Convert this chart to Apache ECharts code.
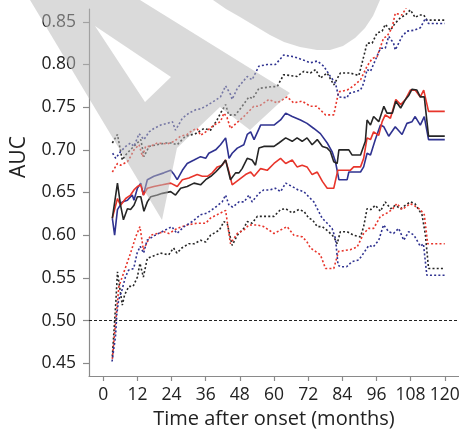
<!DOCTYPE html>
<html><head><meta charset="utf-8">
<script src="https://cdn.jsdelivr.net/npm/echarts@6/dist/echarts.min.js"></script>
<style>html,body{margin:0;padding:0;background:#fff}#c{width:459px;height:432px}</style>
</head><body><div id="c"></div>
<script>
const xTicks = [0,12,24,36,48,60,72,84,96,108,120];
const yTicks = [0.45,0.50,0.55,0.60,0.65,0.70,0.75,0.80,0.85];
const xName = 'Time after onset (months)';
const yName = 'AUC';
const refLine = 0.50;

const blackMid = [[3.2,0.620],[5,0.661],[6.1,0.635],[7.1,0.618],[8.5,0.631],[9.6,0.630],[10.8,0.635],[12,0.645],[13.2,0.645],[14.3,0.628],[15.5,0.639],[16.7,0.645],[19,0.647],[20.8,0.649],[23.7,0.651],[25.4,0.647],[27.2,0.655],[29.5,0.657],[31.9,0.661],[34.2,0.659],[36,0.665],[37.8,0.669],[39.5,0.674],[41.2,0.680],[43,0.688],[44.7,0.665],[46.5,0.673],[47.7,0.673],[48.8,0.678],[50.6,0.690],[52.3,0.688],[53.5,0.682],[54.7,0.702],[56.4,0.704],[60,0.704],[61.7,0.708],[64.1,0.714],[66.4,0.710],[68.1,0.714],[69.9,0.710],[71.6,0.714],[73.4,0.706],[75.2,0.712],[77,0.704],[78.7,0.702],[79.8,0.698],[81,0.686],[82.2,0.684],[82.8,0.700],[86.3,0.700],[87.4,0.694],[90.4,0.694],[92.1,0.710],[92.7,0.735],[93.9,0.729],[95,0.739],[96.8,0.733],[98.6,0.751],[99.7,0.743],[101.6,0.743],[102.8,0.757],[104.5,0.749],[106.2,0.759],[107.4,0.764],[108.5,0.771],[110.2,0.770],[111.4,0.762],[112.8,0.762],[114.3,0.716],[120,0.716]];
const redMid = [[3.2,0.620],[5,0.643],[6.1,0.635],[7.9,0.643],[9.6,0.647],[10.8,0.653],[12,0.657],[13.2,0.659],[14.1,0.647],[15.5,0.655],[17.8,0.657],[20.8,0.659],[23.7,0.661],[26,0.657],[27.8,0.665],[30.1,0.667],[33,0.671],[34.8,0.669],[36.6,0.669],[38.3,0.673],[40.1,0.680],[41.8,0.682],[43,0.688],[44.2,0.674],[45.3,0.659],[47.7,0.665],[50,0.671],[51.8,0.674],[53,0.669],[55.3,0.678],[57.6,0.676],[60,0.684],[62.3,0.690],[64.1,0.684],[66.4,0.688],[68.1,0.680],[69.9,0.682],[71.6,0.680],[73.4,0.671],[75.2,0.674],[77,0.663],[78.7,0.655],[81,0.655],[82.4,0.676],[86.8,0.676],[88,0.680],[90.4,0.680],[91.5,0.690],[92.7,0.714],[93.9,0.712],[95,0.721],[96.8,0.717],[98,0.733],[99.1,0.741],[100.9,0.737],[102.8,0.759],[104.5,0.753],[106.2,0.759],[107.9,0.770],[109.6,0.770],[111.4,0.762],[112.6,0.770],[114.3,0.745],[120,0.745]];
const blueMid = [[3.2,0.620],[4,0.600],[5,0.630],[6.7,0.639],[8.5,0.641],[10.2,0.647],[10.8,0.641],[12,0.655],[13.2,0.661],[14.1,0.647],[15.5,0.665],[17.8,0.669],[21.3,0.673],[23.7,0.676],[24.9,0.671],[26,0.665],[27.8,0.676],[29.5,0.684],[31.9,0.688],[34.2,0.692],[36,0.690],[37.1,0.696],[39.5,0.700],[41.2,0.706],[43,0.714],[44.2,0.690],[45.3,0.696],[47.1,0.702],[49.4,0.706],[50.6,0.718],[51.8,0.721],[53,0.712],[55.3,0.729],[60,0.729],[62.3,0.735],[64.1,0.743],[66.4,0.739],[69.3,0.735],[71.6,0.731],[74,0.725],[76.3,0.719],[78.7,0.708],[80.4,0.698],[81.6,0.686],[82.8,0.665],[85.7,0.665],[86.3,0.674],[90.4,0.674],[91.5,0.680],[92.7,0.696],[93.9,0.694],[95.6,0.712],[97.4,0.729],[98.6,0.727],[100.3,0.716],[102.6,0.727],[105,0.718],[106.7,0.731],[108.5,0.733],[109.6,0.739],[111.4,0.729],[112.8,0.739],[114.3,0.712],[120,0.712]];

const blackHi = [[3.2,0.708],[5,0.718],[6.7,0.688],[7.9,0.694],[9.5,0.700],[11.4,0.706],[13.2,0.712],[14.3,0.692],[16.1,0.704],[19,0.706],[21.9,0.708],[24,0.708],[26,0.706],[28.9,0.716],[32.5,0.719],[35.4,0.725],[37.7,0.723],[40,0.735],[41.2,0.743],[43,0.753],[44.1,0.741],[46.5,0.741],[48.8,0.751],[51.2,0.762],[52.5,0.760],[54.7,0.772],[59.4,0.774],[61.1,0.774],[63.4,0.788],[68.1,0.786],[70.5,0.792],[72.8,0.790],[74.6,0.794],[76.3,0.784],[78.7,0.790],[81,0.776],[83.3,0.790],[86.8,0.790],[89.8,0.787],[91.5,0.809],[92.7,0.825],[94.5,0.825],[96.2,0.837],[98,0.839],[99.1,0.847],[100.9,0.840],[102.5,0.848],[104.5,0.855],[106.2,0.858],[107.9,0.864],[109.6,0.855],[111,0.858],[112.6,0.858],[113.8,0.852],[120,0.852]];
const redHi = [[3.2,0.674],[5,0.684],[6.1,0.682],[8.5,0.686],[9.6,0.692],[10.8,0.700],[12.6,0.706],[13.8,0.692],[14.9,0.704],[16.5,0.704],[19,0.708],[22.5,0.707],[24.9,0.710],[27.2,0.716],[29.5,0.718],[31.3,0.723],[33,0.725],[34.2,0.717],[36,0.721],[38.9,0.729],[41.2,0.733],[42.4,0.743],[43.5,0.738],[44.7,0.725],[49.4,0.739],[52.9,0.751],[54.7,0.751],[58.2,0.759],[61.1,0.755],[64.6,0.762],[66.9,0.755],[69.9,0.757],[72.8,0.751],[75,0.751],[78.1,0.741],[81,0.741],[82.7,0.768],[85.7,0.770],[88,0.775],[90.4,0.782],[92.7,0.798],[94.5,0.807],[96.2,0.809],[98.5,0.831],[99.7,0.833],[101.5,0.843],[102.6,0.860],[105,0.858],[106.7,0.868],[108,0.872],[120,0.872]];
const blueHi = [[3.3,0.696],[4.4,0.690],[6.1,0.698],[7.9,0.704],[9.6,0.708],[10.8,0.704],[12.6,0.719],[14.3,0.712],[16.1,0.721],[17.8,0.725],[20.2,0.729],[22.5,0.731],[24.3,0.733],[25.4,0.723],[27.8,0.737],[30.1,0.743],[32.5,0.747],[34.2,0.748],[36,0.751],[38.9,0.757],[41.2,0.762],[43,0.775],[44.7,0.765],[45.3,0.759],[47.1,0.772],[50.6,0.786],[52.3,0.782],[54.7,0.798],[57.6,0.800],[60.5,0.800],[63.4,0.811],[67,0.809],[70.5,0.805],[72.8,0.802],[75.2,0.804],[77.5,0.798],[79.8,0.786],[81.6,0.778],[82.7,0.762],[85.7,0.761],[86.3,0.766],[90.4,0.770],[91.5,0.778],[92.7,0.794],[93.9,0.792],[95.6,0.805],[97.4,0.819],[99.1,0.819],[100.3,0.833],[102,0.825],[102.6,0.817],[105,0.833],[106.7,0.839],[109,0.840],[111.4,0.843],[113.2,0.854],[114.3,0.848],[120,0.848]];

const blackLo = [[3.2,0.458],[4.4,0.520],[5,0.557],[6.7,0.518],[7.5,0.530],[9,0.540],[10.5,0.540],[12,0.551],[12.9,0.567],[14.1,0.551],[15.5,0.573],[17.1,0.575],[20.1,0.579],[23,0.577],[24.7,0.585],[25.9,0.579],[27.6,0.585],[30.1,0.590],[32,0.590],[34.2,0.594],[36,0.592],[37.7,0.600],[40.8,0.606],[42.4,0.616],[43.6,0.613],[45.3,0.588],[47.1,0.600],[49.4,0.608],[50.6,0.616],[52.3,0.614],[54.1,0.622],[57.6,0.622],[60,0.622],[62.3,0.630],[64.1,0.631],[66.4,0.626],[68.7,0.630],[70.5,0.628],[72.2,0.620],[73.5,0.618],[75.2,0.610],[77,0.610],[79.2,0.604],[81,0.598],[82.2,0.590],[83.3,0.604],[85.7,0.604],[88,0.600],[90.4,0.598],[91.5,0.610],[92.7,0.631],[94,0.630],[95.6,0.635],[97.4,0.628],[99.1,0.639],[101,0.631],[102.6,0.635],[104.5,0.631],[106.1,0.635],[107.9,0.639],[109.5,0.637],[110.8,0.630],[112,0.624],[113.2,0.600],[114.3,0.561],[120,0.561]];
const redLo = [[3.2,0.455],[4.4,0.500],[5.5,0.540],[7.3,0.557],[9.6,0.579],[11.4,0.598],[12.9,0.610],[14.1,0.583],[15.5,0.592],[16.7,0.600],[19,0.602],[21.3,0.604],[23.1,0.602],[26,0.608],[29.5,0.612],[33,0.614],[36,0.614],[37.7,0.620],[40,0.624],[41.2,0.626],[43,0.629],[44.7,0.590],[47.1,0.602],[49.4,0.606],[51.2,0.612],[54.1,0.612],[56.4,0.610],[60,0.602],[62.3,0.606],[64.6,0.610],[67,0.600],[70,0.598],[71.6,0.592],[72.8,0.585],[76.3,0.577],[78.1,0.561],[81,0.561],[82.7,0.581],[86.8,0.583],[89.2,0.586],[91.5,0.602],[93.3,0.608],[95,0.608],[97.4,0.622],[99.7,0.626],[101.5,0.630],[103.2,0.637],[105,0.630],[106.7,0.634],[107.9,0.637],[109.6,0.634],[111.4,0.630],[112.8,0.624],[114,0.590],[120,0.590]];
const blueLo = [[3.1,0.452],[4.3,0.481],[4.8,0.508],[5.4,0.524],[6.6,0.536],[7.8,0.551],[8.9,0.559],[10.7,0.561],[11.9,0.579],[13,0.587],[14.2,0.579],[15.4,0.594],[18.3,0.600],[21.8,0.606],[24.1,0.610],[25.9,0.602],[26.6,0.600],[28.4,0.610],[31.3,0.616],[34.2,0.624],[36.6,0.626],[39.5,0.633],[41.8,0.639],[43,0.647],[44.2,0.635],[45.5,0.633],[47.7,0.639],[49.5,0.639],[51.2,0.647],[52.3,0.639],[54.7,0.649],[56.4,0.653],[58.5,0.653],[60.5,0.655],[62.3,0.651],[64.1,0.661],[66.4,0.657],[68.5,0.653],[70.5,0.651],[72.2,0.645],[74,0.639],[75.2,0.631],[76.9,0.620],[78.7,0.614],[80.4,0.608],[81.6,0.596],[82.5,0.565],[83.3,0.563],[85.5,0.563],[87.4,0.569],[89.8,0.571],[91.5,0.579],[93.3,0.588],[94.8,0.586],[96.8,0.594],[98.5,0.612],[100.3,0.604],[102,0.602],[103.8,0.608],[105.6,0.594],[107.3,0.604],[109.2,0.600],[111.4,0.587],[112.5,0.590],[113.7,0.553],[120,0.553]];

const BLACK = '#262626', RED = '#e8352b', BLUE = '#2f3290';
const FONT = 'Open Sans';
const TXT = '#222';

function line(name, data, color, dotted) {
  return {
    name, type: 'line', data, showSymbol: false, symbol: 'none', animation: false,
    lineStyle: { color, width: 1.6, type: dotted ? [2, 2.2] : 'solid', cap: 'butt' },
    z: dotted ? 2 : 3
  };
}

const chart = echarts.init(document.getElementById('c'), null, { renderer: 'canvas' });
const wmFill = 'rgba(184,184,184,0.52)';
chart.setOption({
  backgroundColor: '#fff',
  animation: false,
  grid: { left: 89, right: 0, top: 9, bottom: 56, containLabel: false, outerBoundsMode: 'none' },
  xAxis: {
    type: 'value', min: -5, max: 125,
    splitLine: { show: false },
    axisLine: { show: true, onZero: false, lineStyle: { color: '#8a8a8a', width: 1.2 } },
    axisTick: { show: true, length: 5, customValues: xTicks, lineStyle: { color: '#8a8a8a', width: 1.2 } },
    axisLabel: { customValues: xTicks, color: TXT, fontSize: 17.5, fontFamily: FONT, margin: 10 },
    name: xName, nameLocation: 'middle', nameGap: 33,
    nameTextStyle: { color: TXT, fontSize: 20, fontFamily: FONT }
  },
  yAxis: {
    type: 'value', min: 0.435, max: 0.865,
    splitLine: { show: false },
    axisLine: { show: true, onZero: false, lineStyle: { color: '#8a8a8a', width: 1.2 } },
    axisTick: { show: true, length: 6, customValues: yTicks, lineStyle: { color: '#8a8a8a', width: 1.2 } },
    axisLabel: { customValues: yTicks, color: TXT, fontSize: 17.5, fontFamily: FONT, margin: 13,
      formatter: v => v.toFixed(2) }
  },
  series: [
    line('blackHi', blackHi, BLACK, true),
    line('redHi', redHi, RED, true),
    line('blueHi', blueHi, BLUE, true),
    line('blackLo', blackLo, BLACK, true),
    line('redLo', redLo, RED, true),
    line('blueLo', blueLo, BLUE, true),
    Object.assign(line('blueMid', blueMid, BLUE, false), {
      markLine: { silent: true, symbol: ['none', 'none'], label: { show: false },
        lineStyle: { color: '#222', type: [3, 2], width: 1 }, data: [{ yAxis: refLine }] }
    }),
    line('redMid', redMid, RED, false),
    line('blackMid', blackMid, BLACK, false)
  ],
  graphic: [
    { type: 'text', x: 19, y: 157, rotation: Math.PI / 2, z: 50,
      style: { text: yName, fill: TXT, fontSize: 21, fontFamily: FONT, textAlign: 'center', textVerticalAlign: 'middle' } },
    { type: 'polygon', z: 100, silent: true,
      shape: { points: [[30,0],[95,26],[145,102],[171,77],[95,26],[30,0],[140,0],[290,93],[250,130],[220,107],[177,148],[162,220]] },
      style: { fill: wmFill, stroke: null } },
    { type: 'polygon', z: 100, silent: true,
      shape: { points: [[213,0],[226,9],[240,17],[255,26],[270,35],[284,42],[300,47],[317,50],[330,50],[343,46],[355,38],[365,28],[373,16],[380,0]] },
      style: { fill: wmFill, stroke: null } }
  ]
});
</script></body></html>
